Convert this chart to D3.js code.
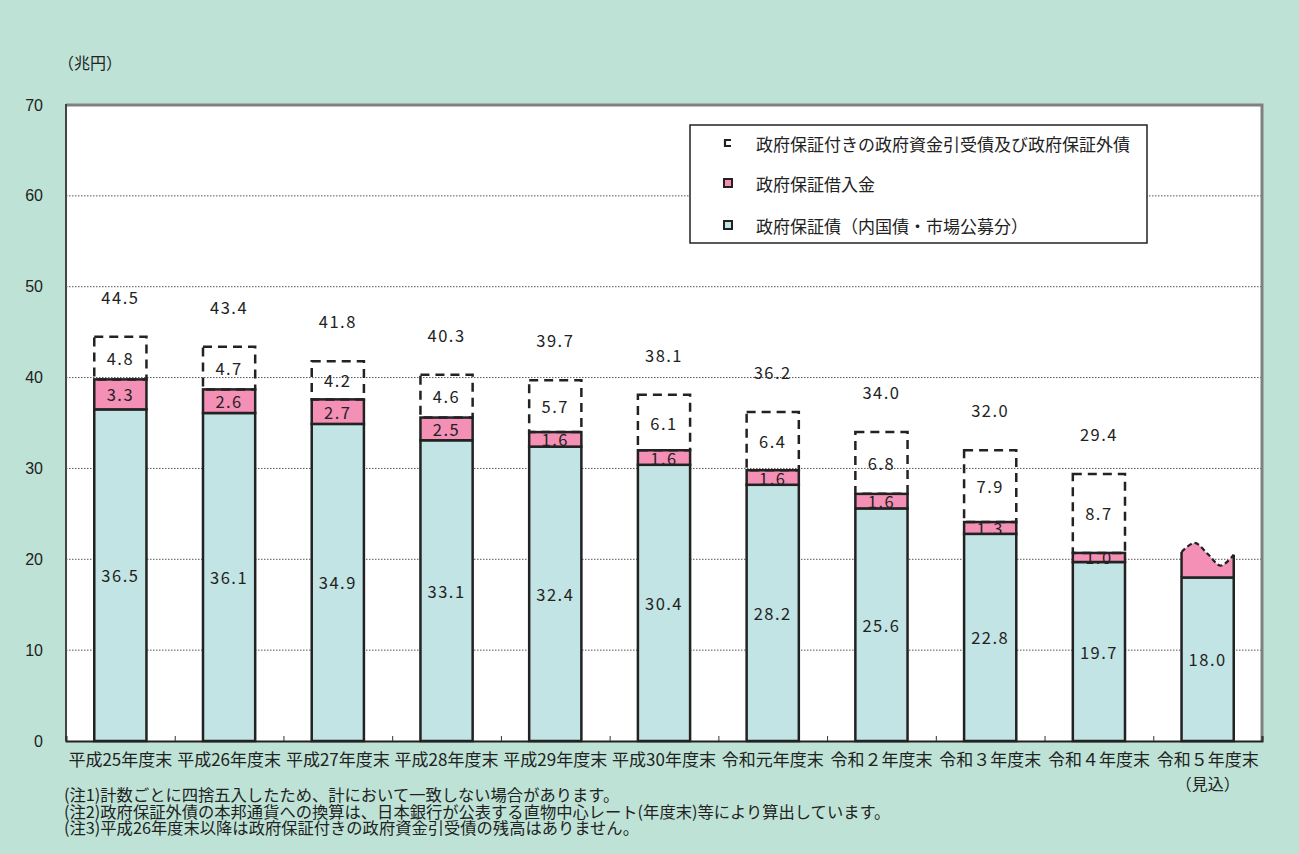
<!DOCTYPE html>
<html><head><meta charset="utf-8">
<script src="https://cdn.jsdelivr.net/npm/d3@7"></script>
<style>
html,body{margin:0;padding:0;background:#bee3d6;}
svg{display:block;font-family:"Noto Sans CJK JP","Noto Sans",sans-serif;}
</style></head>
<body><svg id="c" width="1299" height="854"></svg>
<script>
const categories = ["平成25年度末","平成26年度末","平成27年度末","平成28年度末","平成29年度末","平成30年度末","令和元年度末","令和２年度末","令和３年度末","令和４年度末","令和５年度末"];
const bonds   = [36.5,36.1,34.9,33.1,32.4,30.4,28.2,25.6,22.8,19.7,18.0];
const loans   = [3.3,2.6,2.7,2.5,1.6,1.6,1.6,1.6,1.3,1.0,null];
const foreign = [4.8,4.7,4.2,4.6,5.7,6.1,6.4,6.8,7.9,8.7,null];
const totals  = [44.5,43.4,41.8,40.3,39.7,38.1,36.2,34.0,32.0,29.4,null];
const forecastTop = [20.8,21.8,20.6,19.3,20.5];
const yTicks = [0,10,20,30,40,50,60,70];
const legendLabels = ["政府保証付きの政府資金引受債及び政府保証外債","政府保証借入金","政府保証債（内国債・市場公募分）"];
const notes = ["(注1)計数ごとに四捨五入したため、計において一致しない場合があります。",
 "(注2)政府保証外債の本邦通貨への換算は、日本銀行が公表する直物中心レート(年度末)等により算出しています。",
 "(注3)平成26年度末以降は政府保証付きの政府資金引受債の残高はありません。"];

const C_BASE="#c2e4e4", C_PINK="#f48fb6";
const svg=d3.select("#c");
const L=66,R=1262,T=105,B=741;
const x=d3.scaleBand().domain(categories).range([L,R]).paddingInner(0.52).paddingOuter(0.26);
const y=d3.scaleLinear().domain([0,70]).range([B,T]);
const bw=x.bandwidth();

svg.append("rect").attr("x",L).attr("y",T).attr("width",R-L).attr("height",B-T).attr("fill","#fff");
svg.append("g").selectAll("line").data(yTicks.filter(d=>d>0&&d<70)).join("line")
 .attr("x1",L).attr("x2",R).attr("y1",d=>y(d)).attr("y2",d=>y(d))
 .attr("stroke","#555").attr("stroke-width",1).attr("stroke-dasharray","1.5,1.5");

const g=svg.append("g");
const idx=d3.range(categories.length);
g.selectAll(".b").data(idx).join("rect")
 .attr("x",i=>x(categories[i])).attr("width",bw)
 .attr("y",i=>y(bonds[i])).attr("height",i=>y(0)-y(bonds[i]))
 .attr("fill",C_BASE).attr("stroke","#222").attr("stroke-width",2.5);
const li=idx.filter(i=>loans[i]!=null);
g.selectAll(".l").data(li).join("rect")
 .attr("x",i=>x(categories[i])).attr("width",bw)
 .attr("y",i=>y(bonds[i]+loans[i])).attr("height",i=>y(bonds[i])-y(bonds[i]+loans[i]))
 .attr("fill",C_PINK).attr("stroke","#222").attr("stroke-width",2.5);
const fi=idx.filter(i=>foreign[i]!=null);
g.selectAll(".f").data(fi).join("rect")
 .attr("x",i=>x(categories[i])).attr("width",bw)
 .attr("y",i=>y(totals[i])).attr("height",i=>y(bonds[i]+loans[i])-y(totals[i]))
 .attr("fill","none").attr("stroke","#222").attr("stroke-width",2.5).attr("stroke-dasharray","9,6");

// forecast wavy pink
const last=categories.length-1;
const n=forecastTop.length-1;
const fx=d3.scaleLinear().domain([0,n]).range([x(categories[last]),x(categories[last])+bw]);
const topPts=forecastTop.map((v,k)=>[fx(k),y(v)]);
const wavePath=d3.line().curve(d3.curveCatmullRom.alpha(0.5))(topPts);
g.append("path").attr("d",wavePath+`L${fx(n)},${y(bonds[last])}L${fx(0)},${y(bonds[last])}Z`)
 .attr("fill",C_PINK).attr("stroke","none");
g.append("path").attr("d",wavePath).attr("fill","none").attr("stroke","#222").attr("stroke-width",2.2).attr("stroke-dasharray","5,3");
g.append("line").attr("x1",fx(0)).attr("x2",fx(0)).attr("y1",y(bonds[last])).attr("y2",y(forecastTop[0])).attr("stroke","#222").attr("stroke-width",2.5);
g.append("line").attr("x1",fx(n)).attr("x2",fx(n)).attr("y1",y(bonds[last])).attr("y2",y(forecastTop[n])).attr("stroke","#222").attr("stroke-width",2.5);
g.append("line").attr("x1",fx(0)).attr("x2",fx(n)).attr("y1",y(bonds[last])).attr("y2",y(bonds[last])).attr("stroke","#222").attr("stroke-width",2.5);

// value labels
const fmt=d3.format(".1f");
const lab=(sel)=>sel.attr("text-anchor","middle").attr("dominant-baseline","central").attr("font-size",16.5).attr("letter-spacing",1.5).attr("fill","#222");
g.selectAll(".tb").data(idx).join("text").call(lab)
 .attr("x",i=>x(categories[i])+bw/2).attr("y",i=>(y(0)+y(bonds[i]))/2).text(i=>fmt(bonds[i]));
g.selectAll(".tl").data(li).join("text").call(lab)
 .attr("x",i=>x(categories[i])+bw/2).attr("y",i=>(y(bonds[i])+y(bonds[i]+loans[i]))/2).text(i=>fmt(loans[i]));
g.selectAll(".tf").data(fi).join("text").call(lab)
 .attr("x",i=>x(categories[i])+bw/2).attr("y",i=>(y(bonds[i]+loans[i])+y(totals[i]))/2).text(i=>fmt(foreign[i]));
g.selectAll(".tt").data(fi).join("text").call(lab)
 .attr("x",i=>x(categories[i])+bw/2).attr("y",i=>y(totals[i])-40).text(i=>fmt(totals[i]));

// frame
svg.append("path").attr("d",`M${L},${T}H${R}V${B}`).attr("fill","none").attr("stroke","#808080").attr("stroke-width",3);
svg.append("line").attr("x1",L).attr("x2",L).attr("y1",T-1).attr("y2",B).attr("stroke","#444").attr("stroke-width",2);

const xb=d3.scaleLinear().domain([0,categories.length]).range([L,R]);
const ax=svg.append("g").attr("transform",`translate(0,${B})`)
 .call(d3.axisBottom(xb).tickValues(d3.range(0,categories.length+1)).tickSize(-5).tickFormat(""));
ax.select(".domain").attr("stroke","#222").attr("stroke-width",2);
ax.selectAll(".tick line").attr("stroke","#333").attr("stroke-width",1);

const cx=svg.append("g").attr("transform",`translate(0,${B+7})`)
 .call(d3.axisBottom(x).tickSize(0).tickPadding(6));
cx.select(".domain").remove();
cx.selectAll("text").attr("font-size",17).attr("fill","#222").attr("font-family","'Noto Sans CJK JP',sans-serif");
svg.append("text").attr("x",x(categories[last])+bw/2).attr("y",790).attr("text-anchor","middle").attr("font-size",16).attr("fill","#222").text("（見込）");

const ay=svg.append("g").attr("transform",`translate(${L-23},0)`)
 .call(d3.axisLeft(y).tickValues(yTicks).tickSize(0).tickPadding(0));
ay.select(".domain").remove();
ay.selectAll("text").attr("font-size",16).attr("fill","#222").attr("font-family","'Liberation Sans',Arial,sans-serif");
svg.append("text").attr("x",58).attr("y",69).attr("font-size",16).attr("fill","#222").text("（兆円）");

// legend
const lg=svg.append("g");
lg.append("rect").attr("x",690).attr("y",125).attr("width",457).attr("height",118).attr("fill","#fff").attr("stroke","#222").attr("stroke-width",1.5);
const ly=[143,183,225];
legendLabels.forEach((t,k)=>{
  lg.append("text").attr("x",756).attr("y",ly[k]).attr("dominant-baseline","central").attr("font-size",17).attr("fill","#222").text(t);
});
lg.append("path").attr("d",`M731,${ly[0]-3}H725V${ly[0]+3}H731`).attr("stroke","#222").attr("stroke-width",2.2).attr("fill","none");
lg.append("rect").attr("x",724).attr("y",ly[1]-4).attr("width",8).attr("height",8).attr("fill",C_PINK).attr("stroke","#222").attr("stroke-width",2);
lg.append("rect").attr("x",724).attr("y",ly[2]-4).attr("width",8).attr("height",8).attr("fill",C_BASE).attr("stroke","#222").attr("stroke-width",2);

notes.forEach((t,k)=>{
  svg.append("text").attr("x",64).attr("y",801+k*16.5).attr("font-size",16.3).attr("fill","#222").text(t);
});
</script></body></html>
